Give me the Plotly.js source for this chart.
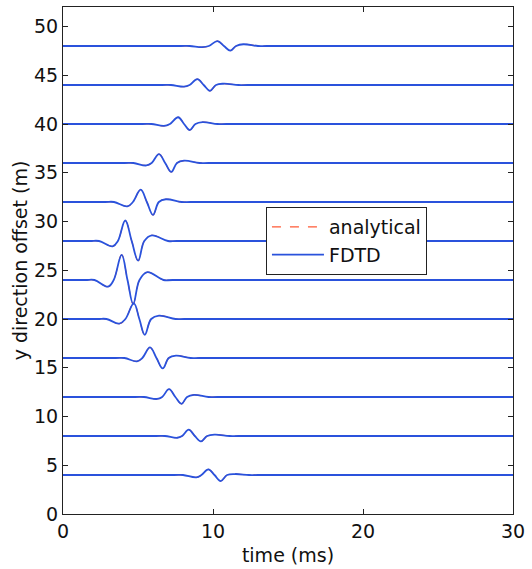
<!DOCTYPE html>
<html>
<head>
<meta charset="utf-8">
<script src="https://cdn.plot.ly/plotly-3.0.1.min.js"></script>
<style>
  html, body { margin: 0; padding: 0; background: #ffffff; }
  #chart { width: 532px; height: 569px; }
</style>
</head>
<body>
<div id="chart"></div>
<script>
// Receiver offsets along y (m)
const offsets = [4, 8, 12, 16, 20, 24, 28, 32, 36, 40, 44, 48];

const quietT  = [7.40, 6.20, 4.80, 3.50, 2.30, 1.50, 1.80, 2.80, 4.10, 5.30, 6.60, 7.85];
const onsetT  = [8.00, 6.80, 5.40, 4.10, 2.90, 2.10, 2.40, 3.40, 4.70, 5.90, 7.20, 8.45];
const dipT    = [8.89, 7.62, 6.27, 4.93, 3.75, 3.00, 3.31, 4.29, 5.56, 6.73, 8.07, 9.30];
const cross1T = [9.23, 7.94, 6.61, 5.29, 4.16, 3.38, 3.66, 4.66, 5.91, 7.13, 8.44, 9.72];
const peakT   = [9.69, 8.38, 7.07, 5.80, 4.72, 3.91, 4.15, 5.18, 6.40, 7.68, 8.96, 10.30];
const cross2T = [10.10, 8.79, 7.49, 6.23, 5.09, 4.30, 4.58, 5.59, 6.81, 8.07, 9.38, 10.73];
const troughT = [10.51, 9.19, 7.90, 6.65, 5.45, 4.68, 5.01, 6.00, 7.22, 8.45, 9.80, 11.15];
const cross3T = [10.94, 9.61, 8.27, 7.05, 5.88, 5.10, 5.42, 6.39, 7.60, 8.83, 10.20, 11.54];
const bumpT   = [11.47, 10.12, 8.73, 7.53, 6.40, 5.62, 5.92, 6.86, 8.07, 9.30, 10.70, 12.02];
const endT    = [12.40, 11.10, 9.70, 8.50, 7.50, 6.70, 7.00, 7.90, 9.10, 10.30, 11.70, 13.00];
const stillT  = [13.00, 11.70, 10.30, 9.10, 8.10, 7.30, 7.60, 8.50, 9.70, 10.90, 12.30, 13.60];

// Amplitudes of the wavelet extrema (in y-axis units, relative to the trace offset)
const dipA    = [-0.24, -0.18, -0.20, -0.34, -0.48, -0.68, -0.55, -0.45, -0.25, -0.20, -0.17, -0.12];
const peakA   = [0.58, 0.65, 0.80, 1.08, 1.60, 2.58, 2.10, 1.26, 0.92, 0.69, 0.60, 0.50];
const troughA = [-0.62, -0.55, -0.70, -1.07, -1.62, -2.45, -2.02, -1.33, -0.92, -0.63, -0.60, -0.47];
const bumpA   = [0.10, 0.14, 0.22, 0.24, 0.34, 0.80, 0.58, 0.28, 0.24, 0.20, 0.13, 0.18];

// Time axis limits (ms)
const tStart = 0;
const tEnd = 30;

// Axis ticks
const xTicks = [0, 10, 20, 30];
const yTicks = [0, 5, 10, 15, 20, 25, 30, 35, 40, 45, 50];

const FONT = 'DejaVu Sans, Liberation Sans, Arial, sans-serif';
const BLUE = '#2a52dc';
const RED = '#ff5a36';

function traceXY(i, full) {
  const o = offsets[i];
  let xs = [quietT[i], onsetT[i], dipT[i], cross1T[i], peakT[i], cross2T[i], troughT[i], cross3T[i], bumpT[i], endT[i], stillT[i]];
  let ys = [o, o, o + dipA[i], o, o + peakA[i], o, o + troughA[i], o, o + bumpA[i], o, o];
  if (full) {
    xs = [tStart].concat(xs, [tEnd]);
    ys = [o].concat(ys, [o]);
  }
  return {x: xs, y: ys};
}

const data = [];
// analytical (dashed, drawn underneath)
offsets.forEach((o, i) => {
  const xy = traceXY(i, false);
  data.push({
    x: xy.x, y: xy.y, type: 'scatter', mode: 'lines',
    name: 'analytical', legendgroup: 'analytical', showlegend: i === 0,
    line: {color: RED, width: 1.1, dash: 'dash', shape: 'spline', smoothing: 1.1},
    hoverinfo: 'skip'
  });
});
// FDTD (solid blue)
offsets.forEach((o, i) => {
  const xy = traceXY(i, true);
  data.push({
    x: xy.x, y: xy.y, type: 'scatter', mode: 'lines',
    name: 'FDTD', legendgroup: 'FDTD', showlegend: i === 0,
    line: {color: BLUE, width: 1.8, shape: 'spline', smoothing: 1.1},
    hoverinfo: 'skip'
  });
});

const axisCommon = {
  showgrid: false, zeroline: false,
  showline: true, linecolor: '#222222', linewidth: 1,
  mirror: 'ticks', ticks: 'inside', ticklen: 5, tickwidth: 1, tickcolor: '#222222',
  tickfont: {family: FONT, size: 19, color: '#111111'},
  automargin: false
};

const layout = {
  width: 532, height: 569,
  margin: {l: 63, r: 19, t: 7, b: 55},
  paper_bgcolor: '#ffffff', plot_bgcolor: '#ffffff',
  font: {family: FONT, size: 19, color: '#111111'},
  showlegend: true,
  legend: {
    x: 0.451, y: 0.6055, xanchor: 'left', yanchor: 'top',
    bgcolor: '#ffffff', bordercolor: '#222222', borderwidth: 1,
    font: {family: FONT, size: 19, color: '#111111'},
    traceorder: 'normal', itemwidth: 52, tracegroupgap: 0,
    entrywidth: 160, entrywidthmode: 'pixels'
  },
  xaxis: Object.assign({}, axisCommon, {
    range: [tStart, tEnd], tickvals: xTicks, ticktext: xTicks.map(String),
    title: {text: 'time (ms)', font: {family: FONT, size: 19, color: '#111111'}, standoff: 7}
  }),
  yaxis: Object.assign({}, axisCommon, {
    range: [0, 52], tickvals: yTicks, ticktext: yTicks.map(String),
    title: {text: 'y direction offset (m)', font: {family: FONT, size: 19, color: '#111111'}, standoff: 1}
  })
};

Plotly.newPlot('chart', data, layout, {staticPlot: true, displayModeBar: false});
</script>
</body>
</html>
